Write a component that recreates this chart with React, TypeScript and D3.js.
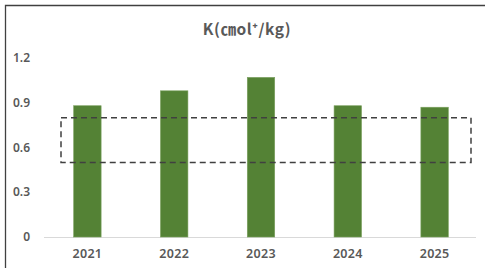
import React, { useEffect, useRef } from "react";
import * as d3 from "d3";

const years = ["2021", "2022", "2023", "2024", "2025"];
const kValues = [0.88, 0.98, 1.07, 0.88, 0.87];
const yTicks = [0, 0.3, 0.6, 0.9, 1.2];
// optimal range box drawn as dashed rectangle
const optimalRange = [0.5, 0.8];

const width = 485;
const height = 268;

export default function App() {
  const ref = useRef<SVGSVGElement>(null);

  useEffect(() => {
    document.body.style.margin = "0";
    const svg = d3.select(ref.current);
    svg.selectAll("*").remove();

    const x = d3.scaleBand().domain(years).range([44, 478]).padding(0);
    const y = d3.scaleLinear().domain([0, 1.2]).range([237, 58]);
    const barW = x.step() * 0.316;

    // frame
    svg
      .append("path")
      .attr("d", `M5.5,${height} V5.5 H${width}`)
      .attr("fill", "none")
      .attr("stroke", "#404040")
      .attr("stroke-width", 1.3);

    // title
    svg
      .append("text")
      .attr("x", 247)
      .attr("y", 35)
      .attr("text-anchor", "middle")
      .style("font-family", "'Noto Sans CJK KR', 'Noto Sans', sans-serif")
      .style("font-size", "15.5px")
      .style("font-weight", "bold")
      .style("letter-spacing", "0.6px")
      .style("fill", "#595959")
      .text("K(㎝ol⁺/kg)");

    // baseline
    svg
      .append("line")
      .attr("x1", 44)
      .attr("x2", 476)
      .attr("y1", y(0) + 0.5)
      .attr("y2", y(0) + 0.5)
      .attr("stroke", "#d9d9d9")
      .attr("stroke-width", 1);

    // y tick labels
    svg
      .selectAll("text.ytick")
      .data(yTicks)
      .enter()
      .append("text")
      .attr("class", "ytick")
      .attr("x", 30)
      .attr("y", d => y(d) + 4)
      .attr("text-anchor", "end")
      .style("font-family", "'Noto Sans', sans-serif")
      .style("font-size", "12px")
      .style("font-weight", 600)
      .style("fill", "#595959")
      .text(d => (d === 0 ? "0" : d.toFixed(1)));

    // x tick labels
    svg
      .selectAll("text.xtick")
      .data(years)
      .enter()
      .append("text")
      .attr("class", "xtick")
      .attr("x", d => (x(d) as number) + x.step() / 2)
      .attr("y", 258)
      .attr("text-anchor", "middle")
      .style("font-family", "'Noto Sans', sans-serif")
      .style("font-size", "12.5px")
      .style("font-weight", 600)
      .style("letter-spacing", "0.3px")
      .style("fill", "#595959")
      .text(d => d);

    // bars
    svg
      .selectAll("rect.bar")
      .data(years)
      .enter()
      .append("rect")
      .attr("class", "bar")
      .attr("x", d => (x(d) as number) + (x.step() - barW) / 2)
      .attr("y", (d, i) => y(kValues[i]))
      .attr("width", barW)
      .attr("height", (d, i) => y(0) - y(kValues[i]))
      .attr("fill", "#548235")
      .attr("stroke", "#7aa05e")
      .attr("stroke-width", 0.6);

    // dashed range box
    svg
      .append("rect")
      .attr("x", 61)
      .attr("y", y(optimalRange[1]))
      .attr("width", 410)
      .attr("height", y(optimalRange[0]) - y(optimalRange[1]))
      .attr("fill", "none")
      .attr("stroke", "#404040")
      .attr("stroke-width", 1.5)
      .attr("stroke-dasharray", "6,4");
  }, []);

  return <svg ref={ref} width={width} height={height} style={{ display: "block", background: "#fff" }} />;
}
